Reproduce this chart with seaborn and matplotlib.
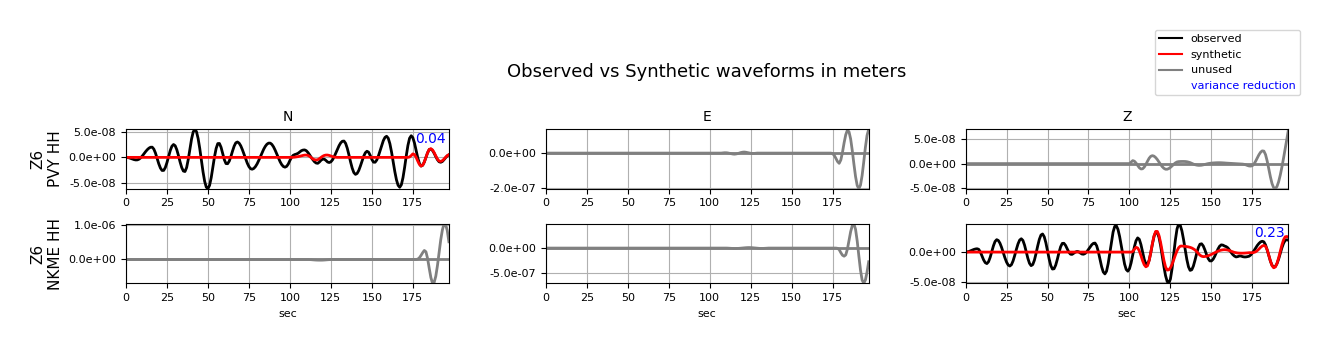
import numpy as np
import seaborn as sns
import matplotlib.pyplot as plt
from matplotlib.lines import Line2D
from matplotlib.ticker import FormatStrFormatter, MultipleLocator

# all traces sampled every 1 s; synthetics are zero before their onset
T_END = 197
stations = ["Z6\nPVY HH", "Z6\nNKME HH"]
components = ["N", "E", "Z"]

# PVY N observed (1e-8 m), from 0 s
pvy_n_obs = [
    0.0, -0.03, -0.1, -0.22, -0.33, -0.44, -0.5, -0.48, -0.34, -0.07,
    0.29, 0.71, 1.13, 1.5, 1.79, 1.97, 1.98, 1.6, 0.83, -0.19,
    -1.24, -2.07, -2.54, -2.53, -1.97, -1.0, 0.19, 1.33, 2.16, 2.5,
    2.26, 1.49, 0.36, -0.89, -1.97, -2.65, -2.75, -1.97, -0.37, 1.63,
    3.56, 4.94, 5.45, 4.99, 3.68, 1.73, -0.56, -2.81, -4.66, -5.8,
    -6.08, -5.42, -3.92, -1.96, 0.12, 1.74, 2.68, 2.7, 1.96, 0.75,
    -0.46, -1.2, -1.23, -0.73, 0.17, 1.23, 2.19, 2.83, 2.99, 2.77,
    2.26, 1.5, 0.63, -0.29, -1.13, -1.79, -2.2, -2.3, -2.14, -1.78,
    -1.26, -0.59, 0.14, 0.87, 1.58, 2.15, 2.56, 2.77, 2.77, 2.52,
    2.05, 1.4, 0.64, -0.13, -0.83, -1.4, -1.77, -1.9, -1.75, -1.3,
    -0.6, 0.0, 0.4, 0.55, 0.65, 0.8, 1.05, 1.3, 1.42, 1.45,
    1.3, 0.95, 0.5, 0.0, -0.45, -0.85, -1.1, -1.15, -0.9, -0.55,
    -0.35, -0.35, -0.6, -0.9, -1.0, -0.86, -0.48, 0.12, 0.84, 1.59,
    2.28, 2.82, 3.13, 3.17, 2.72, 1.77, 0.5, -0.87, -2.08, -2.95,
    -3.3, -3.12, -2.55, -1.69, -0.71, 0.21, 0.89, 1.19, 1.01, 0.38,
    -0.4, -0.93, -0.94, -0.51, 0.28, 1.28, 2.34, 3.26, 3.88, 4.1,
    3.72, 2.65, 1.05, -0.85, -2.75, -4.35, -5.42, -5.8, -5.31, -3.92,
    -1.92, 0.32, 2.32, 3.71, 4.2, 3.83, 2.79, 1.4, -0.07, -1.17,
    -1.69, -1.53, -0.9, 0.0, 0.9, 1.53, 1.6, 1.35, 0.8, 0.15,
    -0.45, -0.85, -0.95, -0.8, -0.45, -0.05, 0.3, 0.5,
]
# PVY N synthetic (1e-8 m), from 101 s
pvy_n_syn_onset = 101
pvy_n_syn = [
    0.0, 0.02, 0.05, 0.1, 0.15, 0.22, 0.3, 0.38, 0.44, 0.45,
    0.38, 0.2, -0.05, -0.3, -0.45, -0.5, -0.45, -0.25, 0.0, 0.22,
    0.38, 0.45, 0.45, 0.38, 0.27, 0.15, 0.07, 0.02, 0.0, 0.0,
    0.0, 0.0, 0.0, 0.0, 0.0, 0.0, 0.0, 0.0, 0.0, 0.0,
    0.0, 0.0, 0.0, 0.0, 0.0, 0.0, 0.0, 0.0, 0.0, 0.0,
    0.0, 0.0, 0.0, 0.0, 0.0, 0.0, 0.0, 0.0, 0.0, 0.0,
    0.0, 0.0, 0.0, 0.0, 0.0, 0.0, 0.0, 0.0, 0.0, 0.0,
    0.0, 0.0, 0.08, 0.35, 0.68, 0.55, 0.01, -0.72, -1.37, -1.69,
    -1.53, -0.9, 0.0, 0.9, 1.53, 1.69, 1.45, 0.93, 0.29, -0.32,
    -0.71, -0.79, -0.64, -0.34, 0.02, 0.34, 0.53,
]
# PVY E synthetic (1e-7 m), from 106 s
pvy_e_syn_onset = 106
pvy_e_syn = [
    0.0, 0.0, 0.01, 0.02, 0.02, 0.01, -0.01, -0.03, -0.05, -0.06,
    -0.05, -0.03, 0.0, 0.03, 0.05, 0.06, 0.05, 0.03, 0.01, -0.01,
    -0.02, -0.02, -0.01, 0.0, 0.0, 0.0, 0.0, 0.0, 0.0, 0.0,
    0.0, 0.0, 0.0, 0.0, 0.0, 0.0, 0.0, 0.0, 0.0, 0.0,
    0.0, 0.0, 0.0, 0.0, 0.0, 0.0, 0.0, 0.0, 0.0, 0.0,
    0.0, 0.0, 0.0, 0.0, 0.0, 0.0, 0.0, 0.0, 0.0, 0.0,
    0.0, 0.0, 0.0, 0.0, 0.0, 0.0, 0.0, 0.0, 0.0, -0.03,
    -0.13, -0.3, -0.48, -0.58, -0.39, 0.04, 0.58, 1.04, 1.3, 1.21,
    0.8, 0.14, -0.63, -1.34, -1.84, -2.02, -1.82, -1.27, -0.49, 0.33,
    1.0, 1.35,
]
# PVY Z synthetic (1e-8 m), from 100 s
pvy_z_syn_onset = 100
pvy_z_syn = [
    0.0, 0.3, 0.6, 0.48, 0.12, -0.37, -0.83, -1.08, -1.04, -0.72,
    -0.17, 0.48, 1.08, 1.47, 1.6, 1.49, 1.21, 0.81, 0.32, -0.17,
    -0.62, -0.95, -1.13, -1.13, -1.0, -0.76, -0.46, -0.14, 0.14, 0.33,
    0.4, 0.42, 0.43, 0.43, 0.42, 0.38, 0.3, 0.2, 0.05, -0.1,
    -0.22, -0.3, -0.35, -0.35, -0.32, -0.25, -0.17, -0.08, 0.0, 0.05,
    0.1, 0.13, 0.15, 0.17, 0.18, 0.18, 0.17, 0.15, 0.13, 0.1,
    0.08, 0.06, 0.04, 0.02, 0.0, -0.02, -0.04, -0.06, -0.08, -0.1,
    -0.15, -0.25, -0.38, -0.48, -0.5, -0.41, -0.06, 0.5, 1.15, 1.79,
    2.29, 2.56, 2.51, 1.82, 0.54, -1.06, -2.69, -4.06, -4.87, -5.05,
    -4.6, -3.65, -2.3, -0.7, 1.1, 3.0, 4.9, 6.9,
]
# NKME N synthetic (1e-7 m), from 110 s
nkme_n_syn_onset = 110
nkme_n_syn = [
    0.0, -0.01, -0.03, -0.06, -0.1, -0.14, -0.17, -0.19, -0.2, -0.2,
    -0.19, -0.16, -0.12, -0.08, -0.05, -0.02, 0.0, 0.0, 0.0, 0.0,
    0.0, 0.0, 0.0, 0.0, 0.0, 0.0, 0.0, 0.0, 0.0, 0.0,
    0.0, 0.0, 0.0, 0.0, 0.0, 0.0, 0.0, 0.0, 0.0, 0.0,
    0.0, 0.0, 0.0, 0.0, 0.0, 0.0, 0.0, 0.0, 0.0, 0.0,
    0.0, 0.0, 0.0, 0.0, 0.0, 0.0, 0.0, 0.0, 0.0, 0.0,
    0.0, 0.0, 0.0, 0.0, 0.0, 0.0, 0.0, 0.0, 0.1, 0.5,
    1.2, 2.0, 2.65, 2.25, 0.28, -2.59, -5.3, -7.0, -6.75, -4.92,
    -1.85, 1.94, 5.7, 8.63, 10.45, 10.3, 8.5, 5.2,
]
# NKME E synthetic (1e-7 m), from 110 s
nkme_e_syn_onset = 110
nkme_e_syn = [
    0.0, -0.01, -0.03, -0.05, -0.07, -0.08, -0.08, -0.07, -0.05, -0.02,
    0.01, 0.04, 0.07, 0.09, 0.1, 0.09, 0.07, 0.04, 0.01, -0.02,
    -0.05, -0.07, -0.07, -0.06, -0.04, -0.02, 0.0, 0.0, 0.0, 0.0,
    0.0, 0.0, 0.0, 0.0, 0.0, 0.0, 0.0, 0.0, 0.0, 0.0,
    0.0, 0.0, 0.0, 0.0, 0.0, 0.0, 0.0, 0.0, 0.0, 0.0,
    0.0, 0.0, 0.0, 0.0, 0.0, 0.0, 0.0, 0.0, 0.0, 0.0,
    0.0, 0.0, 0.0, 0.0, 0.0, 0.0, 0.0, 0.0, -0.05, -0.3,
    -0.9, -1.4, -1.6, -1.35, -0.23, 1.5, 3.24, 4.45, 4.77, 3.69,
    1.39, -1.55, -4.35, -6.32, -6.95, -6.3, -4.74, -2.7,
]
# NKME Z observed (1e-8 m), from 0 s
nkme_z_obs = [
    0.0, 0.03, 0.09, 0.2, 0.32, 0.43, 0.51, 0.55, 0.46, 0.04,
    -0.6, -1.28, -1.74, -1.9, -1.6, -0.88, 0.08, 1.03, 1.75, 2.05,
    1.91, 1.46, 0.76, -0.08, -0.93, -1.65, -2.13, -2.3, -2.08, -1.45,
    -0.55, 0.45, 1.35, 1.98, 2.2, 1.92, 1.14, 0.09, -1.02, -1.85,
    -2.24, -2.06, -1.34, -0.24, 1.0, 2.09, 2.81, 2.99, 2.53, 1.54,
    0.21, -1.14, -2.22, -2.8, -2.75, -2.15, -1.18, -0.07, 0.88, 1.43,
    1.45, 1.11, 0.55, -0.01, -0.35, -0.38, -0.2, 0.0, 0.1, 0.05,
    -0.15, -0.32, -0.35, -0.22, 0.07, 0.45, 0.86, 1.21, 1.44, 1.49,
    1.04, 0.07, -1.18, -2.4, -3.28, -3.6, -3.16, -1.92, -0.16, 1.71,
    3.3, 4.24, 4.34, 3.74, 2.56, 1.03, -0.58, -1.96, -2.87, -3.15,
    -2.75, -1.78, -0.47, 0.86, 1.87, 2.34, 2.11, 1.24, -0.01, -1.2,
    -1.97, -2.04, -1.35, -0.1, 1.35, 2.61, 3.29, 3.22, 2.43, 1.06,
    -0.63, -2.38, -3.88, -4.85, -5.15, -4.43, -2.7, -0.37, 1.99, 3.8,
    4.65, 4.41, 3.49, 2.06, 0.38, -1.22, -2.43, -3.02, -2.92, -2.3,
    -1.32, -0.22, 0.73, 1.3, 1.37, 1.02, 0.37, -0.39, -1.06, -1.45,
    -1.46, -1.19, -0.7, -0.09, 0.51, 0.97, 1.19, 1.15, 1.0, 0.9,
    0.7, 0.35, -0.05, -0.4, -0.65, -0.8, -0.75, -0.65, -0.65, -0.75,
    -0.8, -0.8, -0.75, -0.68, -0.47, -0.14, 0.25, 0.68, 1.1, 1.43,
    1.68, 1.79, 1.69, 1.19, 0.37, -0.59, -1.52, -2.18, -2.49, -2.38,
    -1.9, -1.15, -0.23, 0.71, 1.45, 1.93, 2.04, 1.95,
]
# NKME Z synthetic (1e-8 m), from 101 s
nkme_z_syn_onset = 101
nkme_z_syn = [
    0.0, 0.1, 0.45, 0.78, 0.69, 0.2, -0.57, -1.41, -2.09, -2.43,
    -2.27, -1.41, -0.08, 1.42, 2.68, 3.41, 3.41, 2.75, 1.57, 0.1,
    -1.34, -2.44, -2.97, -2.93, -2.58, -2.0, -1.27, -0.5, 0.2, 0.72,
    0.98, 1.0, 0.98, 0.95, 0.9, 0.85, 0.78, 0.68, 0.53, 0.35,
    0.08, -0.23, -0.5, -0.68, -0.75, -0.73, -0.68, -0.61, -0.5, -0.38,
    -0.24, -0.11, 0.03, 0.15, 0.26, 0.33, 0.38, 0.4, 0.38, 0.33,
    0.25, 0.15, 0.05, -0.05, -0.1, -0.15, -0.17, -0.18, -0.18, -0.17,
    -0.15, -0.13, -0.1, -0.1, -0.1, -0.05, 0.05, 0.25, 0.5, 0.78,
    1.0, 1.1, 0.97, 0.39, -0.51, -1.48, -2.24, -2.59, -2.45, -1.87,
    -0.96, 0.11, 1.18, 2.03, 2.52, 2.58, 2.45,
]
# unused channels: observed trace is flat zero
dead_obs_t = [0, T_END]
dead_obs = [0.0, 0.0]

vr_pvy_n = "0.04"
vr_nkme_z = "0.23"

# y tick spacing of each panel, as on the picture
ytick_steps = [[5e-8, 2e-7, 5e-8], [1e-6, 5e-7, 5e-8]]


def trace(values, onset=0):
    t = np.arange(onset, onset + len(values), dtype=float)
    v = np.asarray(values, dtype=float)
    if onset > 0:
        t = np.r_[0.0, t]
        v = np.r_[0.0, v]
    return t, v


panels = [
    # row, col, observed, synthetic, unit, used, variance reduction
    (0, 0, trace(pvy_n_obs), trace(pvy_n_syn, pvy_n_syn_onset), 1e-8, True, vr_pvy_n),
    (0, 1, (dead_obs_t, dead_obs), trace(pvy_e_syn, pvy_e_syn_onset), 1e-7, False, None),
    (0, 2, (dead_obs_t, dead_obs), trace(pvy_z_syn, pvy_z_syn_onset), 1e-8, False, None),
    (1, 0, (dead_obs_t, dead_obs), trace(nkme_n_syn, nkme_n_syn_onset), 1e-7, False, None),
    (1, 1, (dead_obs_t, dead_obs), trace(nkme_e_syn, nkme_e_syn_onset), 1e-7, False, None),
    (1, 2, trace(nkme_z_obs), trace(nkme_z_syn, nkme_z_syn_onset), 1e-8, True, vr_nkme_z),
]

fig = plt.figure(figsize=(13.29, 3.51), dpi=100)
axes = fig.subplots(2, 3)
fig.subplots_adjust(left=0.0948, right=0.9695, top=0.6316, bottom=0.1929,
                    wspace=0.30, hspace=0.593)

for row, col, obs, syn, unit, used, vr in panels:
    ax = axes[row, col]
    c_obs = "black" if used else "gray"
    c_syn = "red" if used else "gray"
    sns.lineplot(x=obs[0], y=np.asarray(obs[1]) * unit, ax=ax, color=c_obs, lw=2)
    sns.lineplot(x=syn[0], y=syn[1] * unit, ax=ax, color=c_syn, lw=2)
    ax.margins(x=0, y=0)
    ax.yaxis.set_major_locator(MultipleLocator(ytick_steps[row][col]))
    ax.yaxis.set_major_formatter(FormatStrFormatter("%.1e"))
    ax.tick_params(labelsize=8)
    ax.grid(True)
    ax.set_ylabel("")
    if vr is not None:
        ax.text(0.99, 0.96, vr, transform=ax.transAxes, ha="right", va="top",
                color="blue", fontsize=10)
    if row == 0:
        ax.set_title(components[col], fontsize=10)
    else:
        ax.set_xlabel("sec", fontsize=8)
    if col == 0:
        ax.set_ylabel(stations[row], fontsize=11)

fig.align_ylabels(axes[:, 0])
fig.suptitle("Observed vs Synthetic waveforms in meters", x=0.532, y=0.795,
             va="center", fontsize=13)

handles = [
    Line2D([], [], color="black", label="observed"),
    Line2D([], [], color="red", label="synthetic"),
    Line2D([], [], color="gray", label="unused"),
    Line2D([], [], color="none", label="variance reduction"),
]
leg = fig.legend(handles=handles, loc="upper right", bbox_to_anchor=(0.978, 0.915),
                 borderaxespad=0, fontsize=8)
leg.get_texts()[3].set_color("blue")

fig.savefig("out.png", dpi=100)
